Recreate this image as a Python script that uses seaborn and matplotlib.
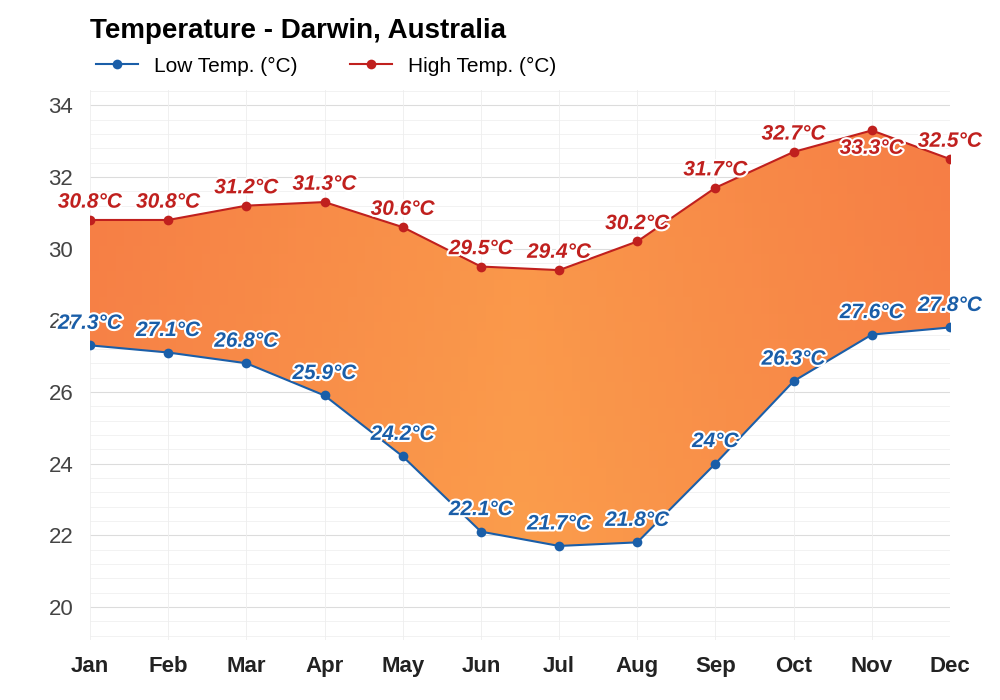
import matplotlib
matplotlib.use("Agg")
import matplotlib.pyplot as plt
import matplotlib.patheffects as pe
import numpy as np
import pandas as pd
import seaborn as sns

plt.rcParams["font.family"] = "Liberation Sans"

months = ["Jan","Feb","Mar","Apr","May","Jun","Jul","Aug","Sep","Oct","Nov","Dec"]
low = [27.3,27.1,26.8,25.9,24.2,22.1,21.7,21.8,24.0,26.3,27.6,27.8]
high = [30.8,30.8,31.2,31.3,30.6,29.5,29.4,30.2,31.7,32.7,33.3,32.5]
low_labels = ["27.3°C","27.1°C","26.8°C","25.9°C","24.2°C","22.1°C","21.7°C","21.8°C","24°C","26.3°C","27.6°C","27.8°C"]
high_labels = ["30.8°C","30.8°C","31.2°C","31.3°C","30.6°C","29.5°C","29.4°C","30.2°C","31.7°C","32.7°C","33.3°C","32.5°C"]
yticks = [20,22,24,26,28,30,32,34]

df = pd.DataFrame({"x": np.arange(12), "low": low, "high": high})
fig = plt.figure(figsize=(10,7), dpi=100)
ax = fig.add_axes([0.09, 0.086, 0.86, 0.785])
ax.set_xlim(0, 11)
ax.set_ylim(19.08, 34.42)

for v in np.arange(19.2, 34.42, 0.4):
    ax.axhline(v, color="#f0f0f0", lw=0.6, zorder=0)
for v in yticks:
    ax.axhline(v, color="#dcdcdc", lw=0.8, zorder=0)
for i in range(12):
    ax.axvline(i, color="#eeeeee", lw=0.6, zorder=0)

poly = ax.fill_between(df.x, df.low, df.high, color="none", zorder=1)
xx = np.linspace(0, 1, 100)[None, :]
yy = np.linspace(0, 1, 50)[:, None]
d = np.clip(np.abs(xx - 0.5) * 1.3 + (1 - yy) * 0.2, 0, 1)
c1 = np.array([0xfb, 0x9d, 0x4c]) / 255
c2 = np.array([0xf5, 0x78, 0x44]) / 255
grad = c1[None, None, :] * (1 - d[..., None]) + c2[None, None, :] * d[..., None]
im = ax.imshow(grad, extent=[0, 11, 21.5, 33.4], aspect="auto", origin="upper", zorder=1)
im.set_clip_path(poly.get_paths()[0], transform=ax.transData)

sns.lineplot(data=df, x="x", y="low", ax=ax, color="#1a5ea8", marker="o", markersize=7,
             markeredgewidth=0, lw=1.5, label="Low Temp. (°C)", zorder=3)
sns.lineplot(data=df, x="x", y="high", ax=ax, color="#c0201e", marker="o", markersize=7,
             markeredgewidth=0, lw=1.5, label="High Temp. (°C)", zorder=3)

eff = [pe.withStroke(linewidth=3, foreground="white")]
for i in range(12):
    ax.annotate(low_labels[i], (i, low[i]), xytext=(0, 9), textcoords="offset points",
                ha="center", va="bottom", fontsize=15, fontstyle="italic", fontweight="bold",
                color="#1a5ea8", path_effects=eff, zorder=5)
    off = (0, -6) if i == 10 else (0, 6)
    va = "top" if i == 10 else "bottom"
    ax.annotate(high_labels[i], (i, high[i]), xytext=off, textcoords="offset points",
                ha="center", va=va, fontsize=15, fontstyle="italic", fontweight="bold",
                color="#c0201e", path_effects=eff, zorder=5)

ax.set_xticks(range(12))
ax.set_xticklabels(months, fontsize=16, fontweight="bold", color="#222")
ax.set_yticks(yticks)
ax.set_yticklabels([str(v) for v in yticks], fontsize=16, color="#444")
ax.tick_params(length=0, pad=12)
ax.set_xlabel(""); ax.set_ylabel("")
for s in ax.spines.values():
    s.set_visible(False)
ax.legend(loc="lower left", bbox_to_anchor=(-0.01, 1.0), ncol=2, frameon=False, fontsize=15,
          handlelength=2, columnspacing=2.5, borderaxespad=0.3)
fig.text(0.09, 0.955, "Temperature - Darwin, Australia", fontsize=20, fontweight="bold", va="center")
fig.savefig("out.png")
